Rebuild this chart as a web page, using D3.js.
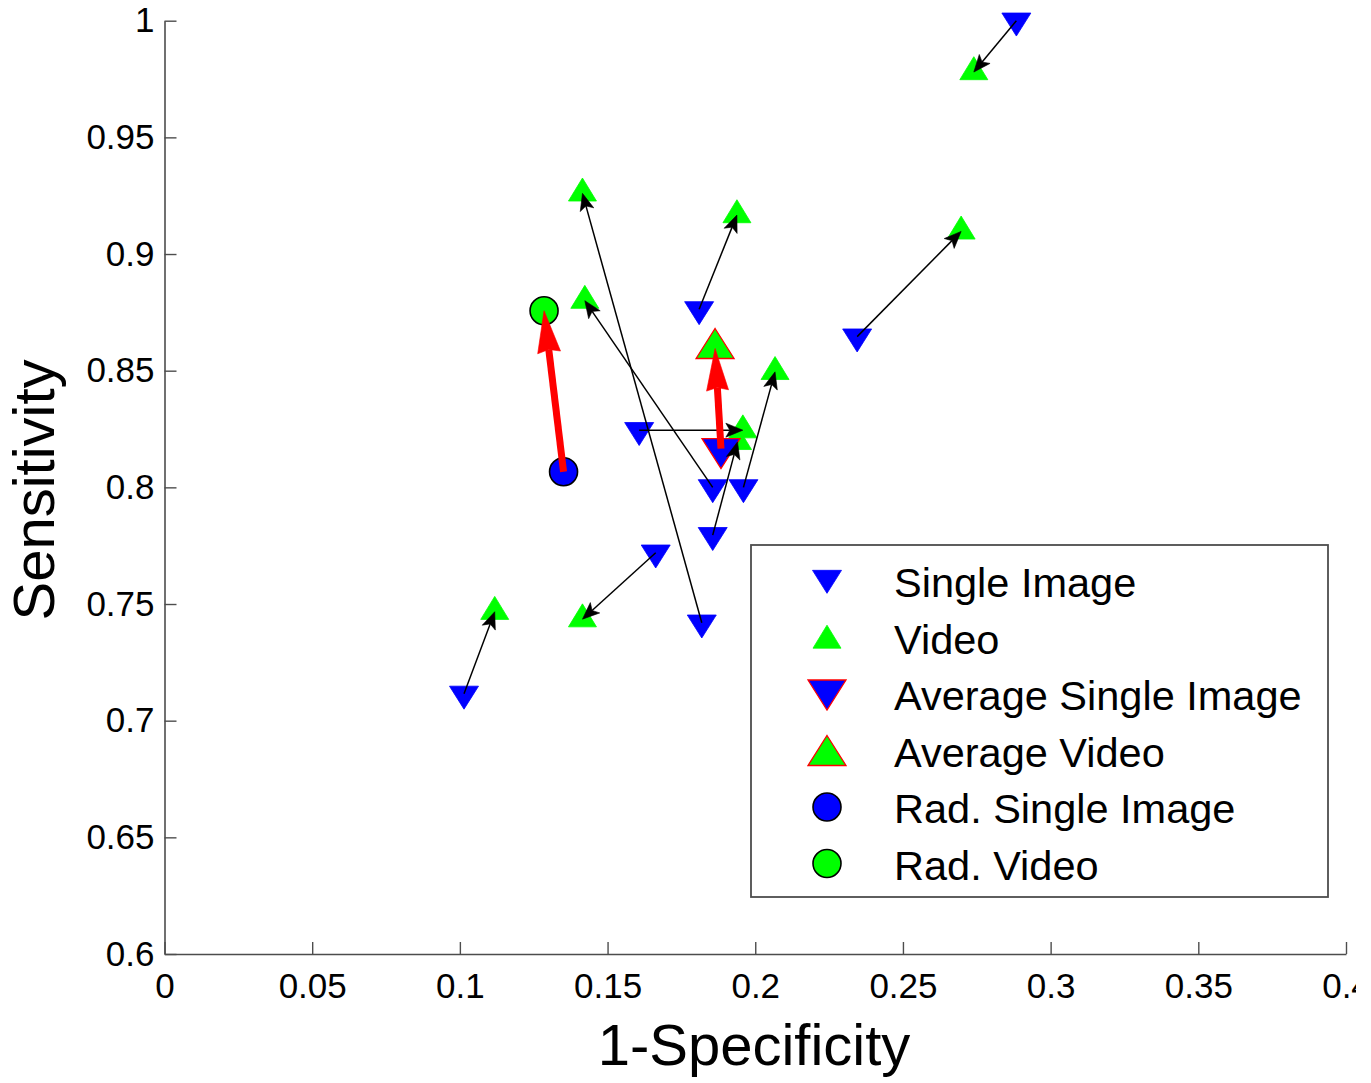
<!DOCTYPE html>
<html>
<head>
<meta charset="utf-8">
<script src="https://cdn.jsdelivr.net/npm/d3@7"></script>
<style>
  html, body { margin: 0; padding: 0; background: #ffffff; }
  svg { display: block; }
  text { font-family: "Liberation Sans", Arial, Helvetica, sans-serif; fill: #000; }
</style>
</head>
<body>
<script>
// ---------------- data ----------------
const singleX = [0.2884, 0.2345, 0.1810, 0.1856, 0.1819, 0.1607, 0.1856, 0.1960, 0.1663, 0.1014];
const singleY = [1.0000, 0.8646, 0.8763, 0.8000, 0.7420, 0.8245, 0.7795, 0.8000, 0.7720, 0.7115];
const videoX  = [0.2740, 0.2697, 0.1938, 0.1423, 0.1415, 0.1958, 0.1940, 0.2067, 0.1415, 0.1118];
const videoY  = [0.9780, 0.9097, 0.9167, 0.8800, 0.9260, 0.8245, 0.8195, 0.8495, 0.7435, 0.7467];
const avgSingle = [0.1884, 0.8166];
const avgVideo  = [0.1864, 0.8595];
const radSingle = [0.1351, 0.8067];
const radVideo  = [0.1285, 0.8757];

const xTicks = [0, 0.05, 0.1, 0.15, 0.2, 0.25, 0.3, 0.35, 0.4];
const xTickLabels = ["0", "0.05", "0.1", "0.15", "0.2", "0.25", "0.3", "0.35", "0.4"];
const yTicks = [0.6, 0.65, 0.7, 0.75, 0.8, 0.85, 0.9, 0.95, 1];
const yTickLabels = ["0.6", "0.65", "0.7", "0.75", "0.8", "0.85", "0.9", "0.95", "1"];

const legendLabels = ["Single Image", "Video", "Average Single Image", "Average Video", "Rad. Single Image", "Rad. Video"];
const xLabel = "1-Specificity";
const yLabel = "Sensitivity";

// ---------------- setup ----------------
const W = 1356, H = 1083;
const svg = d3.select("body").append("svg").attr("width", W).attr("height", H);

const x = d3.scaleLinear().domain([0, 0.4]).range([164.5, 1346]);
const y = d3.scaleLinear().domain([0.6, 1]).range([954, 20.7]);

const BLUE = "#0000ff", GREEN = "#00ff00", RED = "#ff0000";

// marker paths (centroid at origin)
function downTri(w, h) {
  return `M${-w / 2},${-h / 3}L${w / 2},${-h / 3}L0,${2 * h / 3}Z`;
}
function upTri(w, h) {
  return `M0,${-2 * h / 3}L${w / 2},${h / 3}L${-w / 2},${h / 3}Z`;
}

// ---------------- axes ----------------
const axisColor = "#4d4d4d";
const xAxis = d3.axisBottom(x).tickValues(xTicks)
  .tickFormat((d, i) => xTickLabels[i]).tickSizeInner(-12).tickSizeOuter(0).tickPadding(19);
const yAxis = d3.axisLeft(y).tickValues(yTicks)
  .tickFormat((d, i) => yTickLabels[i]).tickSizeInner(-12).tickSizeOuter(0).tickPadding(10);

const gx = svg.append("g").attr("transform", `translate(0,${y(0.6)})`).call(xAxis);
const gy = svg.append("g").attr("transform", `translate(${x(0)},0)`).call(yAxis);
[gx, gy].forEach(g => {
  g.select(".domain").attr("stroke", axisColor).attr("stroke-width", 1.6);
  g.selectAll(".tick line").attr("stroke", axisColor).attr("stroke-width", 1.4);
  g.selectAll(".tick text").attr("font-size", 35).attr("fill", "#000")
    .attr("font-family", '"Liberation Sans", Arial, Helvetica, sans-serif');
});

// axis labels
svg.append("text").attr("x", 754).attr("y", 1065).attr("text-anchor", "middle")
  .attr("font-size", 58).text(xLabel);
svg.append("text").attr("transform", "translate(54,490) rotate(-90)").attr("text-anchor", "middle")
  .attr("font-size", 58).text(yLabel);

// ---------------- markers ----------------
const plot = svg.append("g");
const idx = d3.range(singleX.length);

plot.selectAll("path.single").data(idx).join("path")
  .attr("class", "single")
  .attr("transform", i => `translate(${x(singleX[i])},${y(singleY[i])})`)
  .attr("d", downTri(29, 23))
  .attr("fill", BLUE).attr("stroke", BLUE).attr("stroke-width", 0.8);

plot.selectAll("path.video").data(idx).join("path")
  .attr("class", "video")
  .attr("transform", i => `translate(${x(videoX[i])},${y(videoY[i])})`)
  .attr("d", upTri(28, 23))
  .attr("fill", GREEN).attr("stroke", GREEN).attr("stroke-width", 0.8);

plot.append("path")
  .attr("transform", `translate(${x(avgSingle[0])},${y(avgSingle[1])})`)
  .attr("d", downTri(38, 30))
  .attr("fill", BLUE).attr("stroke", RED).attr("stroke-width", 1.3);

plot.append("path")
  .attr("transform", `translate(${x(avgVideo[0])},${y(avgVideo[1])})`)
  .attr("d", upTri(38, 30))
  .attr("fill", GREEN).attr("stroke", RED).attr("stroke-width", 1.3);

plot.append("circle")
  .attr("cx", x(radSingle[0])).attr("cy", y(radSingle[1])).attr("r", 14)
  .attr("fill", BLUE).attr("stroke", "#000").attr("stroke-width", 1.6);

plot.append("circle")
  .attr("cx", x(radVideo[0])).attr("cy", y(radVideo[1])).attr("r", 14)
  .attr("fill", GREEN).attr("stroke", "#000").attr("stroke-width", 1.6);

// ---------------- arrows ----------------
function drawArrow(g, x1, y1, x2, y2, o) {
  const dx = x2 - x1, dy = y2 - y1, len = Math.hypot(dx, dy);
  const ux = dx / len, uy = dy / len, px = -uy, py = ux;
  const bx = x2 - ux * o.L, by = y2 - uy * o.L;
  const nx = x2 - ux * (o.L - o.N), ny = y2 - uy * (o.L - o.N);
  g.append("line")
    .attr("x1", x1).attr("y1", y1)
    .attr("x2", nx).attr("y2", ny)
    .attr("stroke", o.color).attr("stroke-width", o.sw);
  g.append("path")
    .attr("d", `M${x2},${y2}L${bx + px * o.W},${by + py * o.W}L${nx},${ny}L${bx - px * o.W},${by - py * o.W}Z`)
    .attr("fill", o.color).attr("stroke", o.color).attr("stroke-width", 0.6);
}

const arrows = svg.append("g");
idx.forEach(i => {
  drawArrow(arrows, x(singleX[i]), y(singleY[i]), x(videoX[i]), y(videoY[i]),
    { L: 17, W: 7, N: 4, color: "#000", sw: 1.5 });
});
drawArrow(arrows, x(radSingle[0]), y(radSingle[1]), x(radVideo[0]), y(radVideo[1]),
  { L: 42, W: 11.5, N: 3, color: RED, sw: 7 });
drawArrow(arrows, x(avgSingle[0]), y(avgSingle[1]), x(avgVideo[0]), y(avgVideo[1]),
  { L: 42, W: 11, N: 3, color: RED, sw: 7 });

// ---------------- legend ----------------
const lg = svg.append("g");
lg.append("rect").attr("x", 751).attr("y", 545).attr("width", 577).attr("height", 352)
  .attr("fill", "#fff").attr("stroke", axisColor).attr("stroke-width", 1.8);

const rowBase = d => 597 + d * 56.5;
const mx = 827;
legendLabels.forEach((lab, i) => {
  const cy = rowBase(i) - 16;
  if (i === 0) lg.append("path").attr("transform", `translate(${mx},${cy - 3})`).attr("d", downTri(29, 23))
    .attr("fill", BLUE).attr("stroke", BLUE).attr("stroke-width", 0.8);
  if (i === 1) lg.append("path").attr("transform", `translate(${mx},${cy + 3})`).attr("d", upTri(28, 23))
    .attr("fill", GREEN).attr("stroke", GREEN).attr("stroke-width", 0.8);
  if (i === 2) lg.append("path").attr("transform", `translate(${mx},${cy - 4})`).attr("d", downTri(38, 30))
    .attr("fill", BLUE).attr("stroke", RED).attr("stroke-width", 1.3);
  if (i === 3) lg.append("path").attr("transform", `translate(${mx},${cy + 5})`).attr("d", upTri(38, 30))
    .attr("fill", GREEN).attr("stroke", RED).attr("stroke-width", 1.3);
  if (i === 4) lg.append("circle").attr("cx", mx).attr("cy", cy).attr("r", 14)
    .attr("fill", BLUE).attr("stroke", "#000").attr("stroke-width", 1.6);
  if (i === 5) lg.append("circle").attr("cx", mx).attr("cy", cy).attr("r", 14)
    .attr("fill", GREEN).attr("stroke", "#000").attr("stroke-width", 1.6);
  lg.append("text").attr("x", 894).attr("y", rowBase(i)).attr("font-size", 41.5).text(lab);
});
</script>
</body>
</html>
